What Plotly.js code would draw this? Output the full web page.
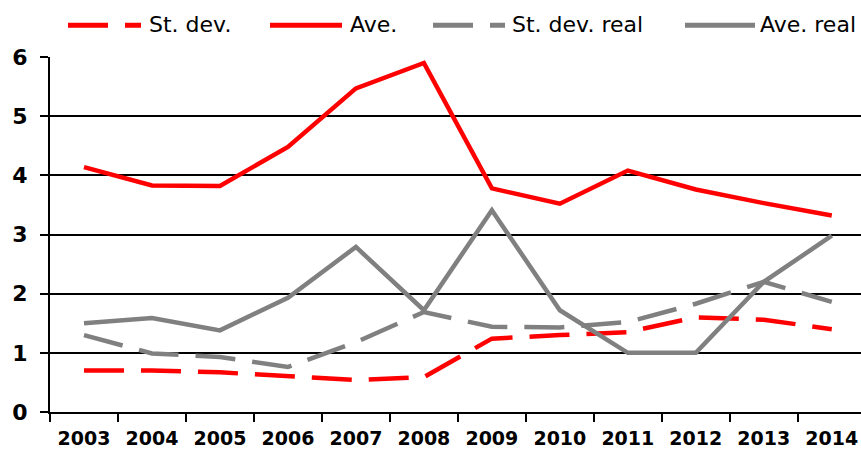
<!DOCTYPE html>
<html>
<head>
<meta charset="utf-8">
<script src="https://cdn.plot.ly/plotly-3.0.1.min.js"></script>
<style>html,body{margin:0;padding:0;background:#fff;}#chart{width:861px;height:450px;}</style>
</head>
<body>
<div id="chart"></div>
<script>
const years = ["2003","2004","2005","2006","2007","2008","2009","2010","2011","2012","2013","2014"];
const stDev = [0.70, 0.70, 0.67, 0.60, 0.54, 0.59, 1.24, 1.30, 1.35, 1.60, 1.56, 1.40];
const ave = [4.14, 3.83, 3.82, 4.48, 5.47, 5.90, 3.78, 3.52, 4.08, 3.76, 3.53, 3.32];
const stDevReal = [1.30, 0.99, 0.93, 0.76, 1.18, 1.69, 1.44, 1.43, 1.52, 1.83, 2.20, 1.86];
const aveReal = [1.50, 1.59, 1.38, 1.93, 2.79, 1.72, 3.41, 1.72, 1.00, 1.00, 2.20, 2.98];
const seriesNames = ["St. dev.", "Ave.", "St. dev. real", "Ave. real"];
const yTicks = [0, 1, 2, 3, 4, 5, 6];

const RED = "#FF0000", GRAY = "#808080";
const DASH = "40px,17px";
const LW = 4.5;
const styles = [
  {color: RED, dash: DASH},
  {color: RED, dash: "solid"},
  {color: GRAY, dash: DASH},
  {color: GRAY, dash: "solid"}
];
const data = [stDev, ave, stDevReal, aveReal];
const traces = data.map((vals, i) => ({
  x: years, y: vals, name: seriesNames[i], mode: "lines",
  line: {color: styles[i].color, width: LW, dash: styles[i].dash}
}));

// Manual legend (to reproduce the long dashed samples)
const plotL = 50, plotW = 811, plotB = 411.7, plotH = 355;
const px2x = p => (p - plotL) / plotW;
const py2y = p => (plotB - p) / plotH;
const legendSamples = [[68, 141], [270, 342], [433, 505], [685, 755]];
const legendTextX = [147, 348, 510, 758];
const legendY = 25;
const shapes = legendSamples.map((s, i) => ({
  type: "line", xref: "paper", yref: "paper",
  x0: px2x(s[0]), x1: px2x(s[1]), y0: py2y(legendY), y1: py2y(legendY),
  line: {color: styles[i].color, width: 5, dash: styles[i].dash}
}));
const annotations = seriesNames.map((n, i) => ({
  text: n, xref: "paper", yref: "paper", x: px2x(legendTextX[i]), y: py2y(legendY - 1),
  xanchor: "left", yanchor: "middle", showarrow: false,
  font: {family: "DejaVu Sans, Verdana, sans-serif", size: 22, color: "#000"}
}));

const layout = {
  width: 861, height: 450,
  margin: {l: 50, r: 0, t: 57, b: 38},
  paper_bgcolor: "#fff", plot_bgcolor: "#fff",
  showlegend: false,
  shapes: shapes,
  annotations: annotations,
  xaxis: {
    type: "category", range: [-0.5, 11.43],
    showline: true, linecolor: "#000", linewidth: 2,
    ticks: "outside", tickson: "boundaries", ticklen: 8, tickwidth: 2, tickcolor: "#000",
    showgrid: false, zeroline: false,
    tickfont: {family: "DejaVu Sans, Verdana, sans-serif", size: 19, color: "#000", weight: "bold"},
    ticklabelstandoff: 8,
    fixedrange: true
  },
  yaxis: {
    range: [0, 6], tickvals: yTicks, ticktext: yTicks.map(String),
    showline: true, linecolor: "#000", linewidth: 2,
    ticks: "outside", ticklen: 8, tickwidth: 2, tickcolor: "#000",
    showgrid: true, gridcolor: "#000", gridwidth: 2, zeroline: false,
    tickfont: {family: "DejaVu Sans, Verdana, sans-serif", size: 22, color: "#000", weight: "bold"},
    ticklabelstandoff: 8,
    fixedrange: true
  }
};
Plotly.newPlot("chart", traces, layout, {displayModeBar: false, staticPlot: true});
</script>
</body>
</html>
